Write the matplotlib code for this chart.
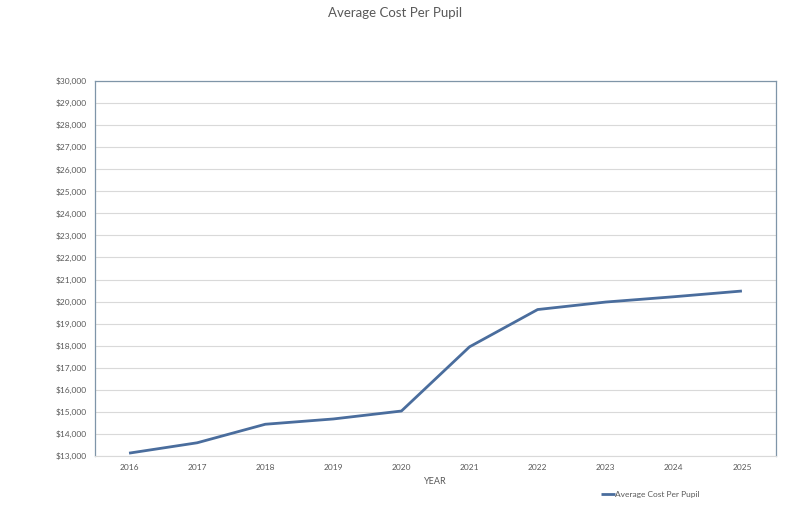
import matplotlib.pyplot as plt
from matplotlib.ticker import FuncFormatter, MultipleLocator

### Data
years = ['2016','2017','2018','2019','2020','2021','2022','2023','2024','2025']
cost = [13130,13600,14440,14680,15040,17950,19640,19980,20220,20480]

plt.rcParams['font.family'] = ['Lato','DejaVu Sans']

fig = plt.figure(figsize=(8,5.14),dpi=100)
ax = fig.add_axes([0.11875,0.1128,0.8512,0.7296])

xs = range(len(years))
line, = ax.plot(xs,cost,color='#4a6d9d',linewidth=2.0,solid_capstyle='butt',
                label='Average Cost Per Pupil')

ax.set_xlim(-0.5,len(years)-0.5)
ax.set_ylim(13000,30000)
ax.yaxis.set_major_locator(MultipleLocator(1000))
ax.yaxis.set_major_formatter(FuncFormatter(lambda v,p: '${:,.0f}'.format(v)))
ax.set_xticks(list(xs))
ax.set_xticklabels(years)

ax.grid(axis='y',color='#d9d9d9',linewidth=0.8)
ax.set_axisbelow(True)
ax.tick_params(axis='both',length=0,labelsize=6,colors='#595959',pad=6)

for s in ['left','top','right']:
    ax.spines[s].set_color('#7f95a8')
    ax.spines[s].set_linewidth(0.9)
ax.spines['bottom'].set_color('#d9d9d9')
ax.spines['bottom'].set_linewidth(0.8)

ax.set_xlabel('YEAR',fontsize=6.5,color='#595959',labelpad=4)
fig.text(0.494,0.975,'Average Cost Per Pupil',ha='center',va='center',
         fontsize=9.5,color='#595959')

leg = ax.legend(handles=[line],loc='center',bbox_to_anchor=(0.8159,-0.102),
                frameon=False,fontsize=6,handlelength=1.6,handletextpad=0.1)
for t in leg.get_texts():
    t.set_color('#595959')

plt.savefig('out.png',dpi=100)
